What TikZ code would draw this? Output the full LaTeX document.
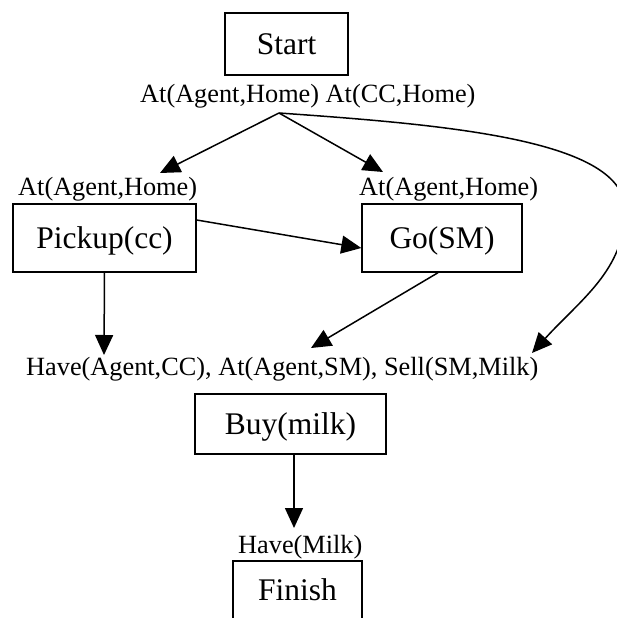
\documentclass[tikz,border=0pt]{standalone}
\usepackage{fontspec}
\setmainfont{Liberation Serif}
\usetikzlibrary{arrows.meta}
\begin{document}
\begin{tikzpicture}[x=1pt,y=-1pt,
  cond/.style={anchor=base west, inner sep=0pt, font=\fontsize{26.3}{30}\selectfont},
  act/.style={draw, line width=1.4pt, inner sep=0pt, text height=20.9pt, text depth=0pt,
              font=\fontsize{31.5}{36}\selectfont},
  arr/.style={line width=1.5pt, -{Triangle[length=20pt,width=18pt]}}]
\useasboundingbox (0,0) rectangle (617,618);
\clip (0,0) rectangle (617,618);

% actions
\node[act, minimum width=123pt, minimum height=62pt] (start) at (286.5,44) {Start};
\node[act, minimum width=183pt, minimum height=68pt] (pick) at (104.5,238) {Pickup(cc)};
\node[act, minimum width=160pt, minimum height=68pt] (go) at (442,238) {Go(SM)};
\node[act, minimum width=191pt, minimum height=60pt] (buy) at (290.5,424) {Buy(milk)};
\node[act, minimum width=129pt, minimum height=59pt] (fin) at (297.5,590.5) {Finish};

% conditions
\node[cond] (effStart) at (140,102) {At(Agent,Home) At(CC,Home)};
\node[cond] (prePick) at (18,195) {At(Agent,Home)};
\node[cond] (preGo) at (359,195) {At(Agent,Home)};
\node[cond] (preBuy) at (26,375) {Have(Agent,CC), At(Agent,SM), Sell(SM,Milk)};
\node[cond] (preFin) at (238,553) {Have(Milk)};

% link ends
\coordinate (fork) at (279,113);
\coordinate (tPick) at (160,173);
\coordinate (tGo) at (383,172);
\coordinate (tCC) at (104,355);
\coordinate (tSM) at (311,348);
\coordinate (tMilk) at (532,353);
\coordinate (bulge) at (625,210);
\coordinate (tFin) at (294,528);

% causal links
\draw[arr] (fork) -- (tPick);
\draw[arr] (fork) -- (tGo);
\draw[arr] (fork) .. controls (450,125) and (625,140) .. (bulge)
                  .. controls (625,270) and (580,300) .. (tMilk);
% ordering and support links
\draw[arr] ([yshift=18pt]pick.east) -- ([yshift=-10pt]go.west);
\draw[arr] (pick.south) -- (tCC);
\draw[arr] ([xshift=-4pt]go.south) -- (tSM);
\draw[arr] (buy.south -| tFin) -- (tFin);
\end{tikzpicture}
\end{document}
